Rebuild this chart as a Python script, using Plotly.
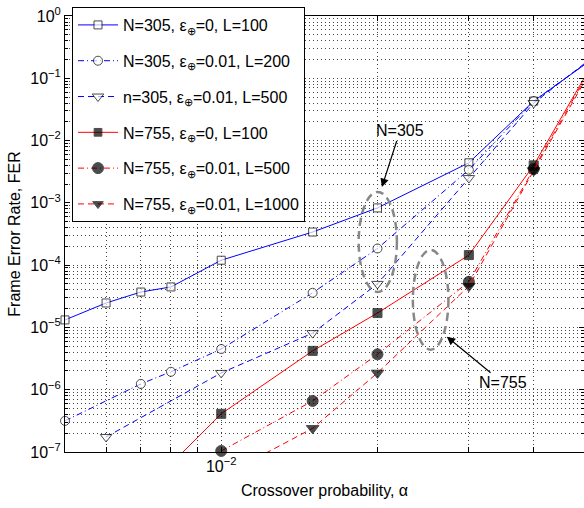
import plotly.graph_objects as go
import numpy as np

# ---- data ----
n305_L100_x = [0.005, 0.006, 0.007, 0.008, 0.01, 0.015, 0.02, 0.03, 0.04, 0.05]
n305_L100_y = [1.32e-5, 2.47e-5, 3.7e-5, 4.47e-5, 1.2e-4, 3.4e-4, 8.3e-4, 4.4e-3, 0.043, 0.163]

n305_L200_x = [0.005, 0.007, 0.008, 0.01, 0.015, 0.02, 0.03, 0.04, 0.05]
n305_L200_y = [3.16e-7, 1.24e-6, 1.94e-6, 4.5e-6, 3.6e-5, 1.85e-4, 3.4e-3, 0.043, 0.165]

n305_L500_x = [0.006, 0.01, 0.015, 0.02, 0.03, 0.04, 0.05]
n305_L500_y = [1.74e-7, 1.86e-6, 8.1e-6, 5.0e-5, 2.5e-3, 0.040, 0.17]

n755_L100_x = [0.008, 0.01, 0.015, 0.02, 0.03, 0.04, 0.05]
n755_L100_y = [6.4e-8, 4.1e-7, 4.2e-6, 1.7e-5, 1.45e-4, 4.0e-3, 0.10]

n755_L500_x = [0.01, 0.015, 0.02, 0.03, 0.04, 0.05]
n755_L500_y = [1.04e-7, 6.6e-7, 3.7e-6, 5.4e-5, 3.5e-3, 0.093]

n755_L1000_x = [0.01, 0.015, 0.02, 0.03, 0.04, 0.05]
n755_L1000_y = [4.0e-8, 2.4e-7, 1.86e-6, 4.6e-5, 3.3e-3, 0.086]

legend_names = [
    "N=305, ε<sub>⊕</sub>=0, L=100",
    "N=305, ε<sub>⊕</sub>=0.01, L=200",
    "n=305, ε<sub>⊕</sub>=0.01, L=500",
    "N=755, ε<sub>⊕</sub>=0, L=100",
    "N=755, ε<sub>⊕</sub>=0.01, L=500",
    "N=755, ε<sub>⊕</sub>=0.01, L=1000",
]

y_decades = [1e-7, 1e-6, 1e-5, 1e-4, 1e-3, 1e-2, 1e-1, 1e0]
y_ticktext = ["10<sup>−7</sup>", "10<sup>−6</sup>", "10<sup>−5</sup>", "10<sup>−4</sup>",
              "10<sup>−3</sup>", "10<sup>−2</sup>", "10<sup>−1</sup>", "10<sup>0</sup>"]
x_gridvals = [0.005, 0.006, 0.007, 0.008, 0.009, 0.01, 0.02, 0.03, 0.04, 0.05]
x_ticktext = ["", "", "", "", "", "10<sup>−2</sup>", "", "", "", ""]

YMIN, YMAX = 1e-7, 1e0
FONT = "Liberation Sans, Arial, Helvetica, sans-serif"
GRID = dict(gridcolor="#444", griddash="1px,3px", gridwidth=1)

series = [
    (n305_L100_x, n305_L100_y, "blue", "solid", "square", "white", 8),
    (n305_L200_x, n305_L200_y, "blue", "6px,3px,1px,3px", "circle", "white", 9),
    (n305_L500_x, n305_L500_y, "blue", "6px,4px", "triangle-down", "white", 10),
    (n755_L100_x, n755_L100_y, "red", "solid", "square", "black", 9),
    (n755_L500_x, n755_L500_y, "red", "6px,3px,1px,3px", "circle", "black", 11),
    (n755_L1000_x, n755_L1000_y, "red", "6px,4px", "triangle-down", "black", 11),
]

fig = go.Figure()
for i, (xs, ys, col, dash, sym, fill, sz) in enumerate(series):
    sizes = [sz if v >= YMIN * 0.95 else 0 for v in ys]
    fig.add_trace(go.Scatter(
        x=xs, y=ys, mode="lines+markers", name=legend_names[i],
        legendgroup=f"g{i}",
        line=dict(color=col, width=1, dash=dash),
        marker=dict(symbol=sym, color=fill, size=sizes,
                    line=dict(color="black", width=1)),
        cliponaxis=False,
    ))

minor_y = [m * d for d in y_decades[:-1] for m in range(2, 10)]

fig.update_layout(
    width=584, height=508,
    margin=dict(l=65, r=0, t=16, b=56),
    paper_bgcolor="white", plot_bgcolor="white",
    font=dict(family=FONT, size=16, color="black"),
    showlegend=True,
    legend=dict(
        x=0.0135, y=1.0206, xanchor="left", yanchor="top",
        bgcolor="white", bordercolor="black", borderwidth=1,
        font=dict(family=FONT, size=16, color="black"),
        tracegroupgap=12, traceorder="grouped", itemwidth=40,
    ),
    xaxis=dict(
        type="log", range=[np.log10(0.005), np.log10(0.05)],
        tickmode="array", tickvals=x_gridvals, ticktext=x_ticktext,
        ticks="inside", ticklen=5, tickcolor="black",
        showline=True, linecolor="black", linewidth=1, mirror="allticks",
        showgrid=True, **GRID,
        zeroline=False,
        title=dict(text="Crossover probability, α", font=dict(size=16), standoff=10),
        tickfont=dict(size=16),
    ),
    yaxis=dict(
        type="log", range=[np.log10(YMIN), np.log10(YMAX)],
        tickmode="array", tickvals=y_decades, ticktext=y_ticktext,
        ticks="inside", ticklen=5, tickcolor="black",
        showline=True, linecolor="black", linewidth=1, mirror="allticks",
        showgrid=True, **GRID,
        zeroline=False,
        minor=dict(tickmode="array", tickvals=minor_y, ticks="inside", ticklen=3,
                   tickcolor="black", showgrid=True, **GRID),
        title=dict(text="Frame Error Rate, FER", font=dict(size=16), standoff=5),
        tickfont=dict(size=16),
    ),
)

# dashed ellipses grouping the N=305 and N=755 curves
fig.add_shape(type="circle", xref="x", yref="y",
              x0=0.0184, x1=0.0218, y0=3.7e-5, y1=1.5e-3,
              line=dict(color="#888", width=2.5, dash="8px,5px"))
fig.add_shape(type="circle", xref="x", yref="y",
              x0=0.0234, x1=0.0274, y0=4.4e-6, y1=1.75e-4,
              line=dict(color="#888", width=2.5, dash="8px,5px"))

fig.add_annotation(x=np.log10(0.0204), y=np.log10(1.8e-3), xref="x", yref="y",
                   text="N=305", showarrow=True, ax=18, ay=-56,
                   arrowhead=2, arrowsize=1.4, arrowwidth=1.2, arrowcolor="black",
                   font=dict(size=16, color="black"))
fig.add_annotation(x=np.log10(0.0272), y=np.log10(7.1e-6), xref="x", yref="y",
                   text="N=755", showarrow=True, ax=56, ay=46,
                   arrowhead=2, arrowsize=1.4, arrowwidth=1.2, arrowcolor="black",
                   font=dict(size=16, color="black"))

fig.write_html("out.html")
